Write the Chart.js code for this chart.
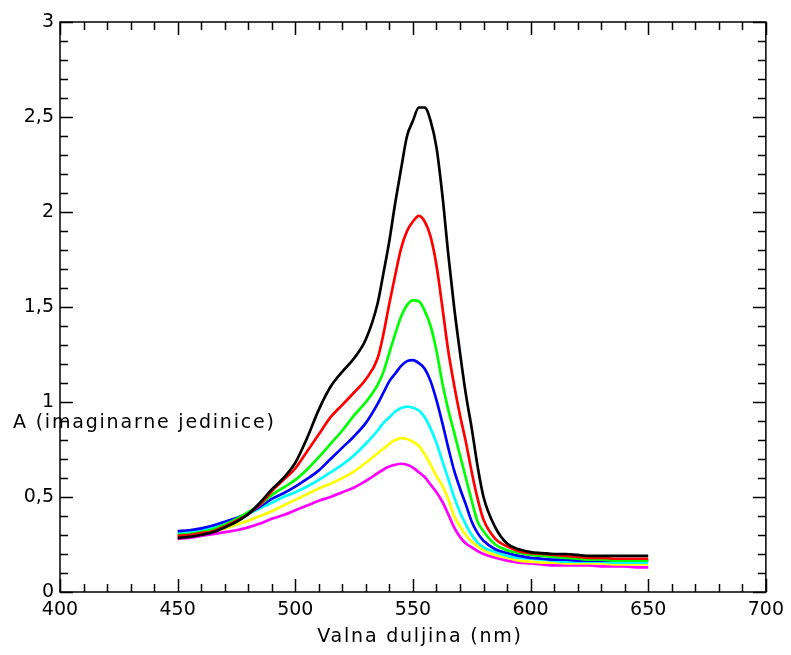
<!DOCTYPE html>
<html>
<head>
<meta charset="utf-8">
<title>Valna duljina</title>
<script src="https://cdn.jsdelivr.net/npm/chart.js@4.4.1/dist/chart.umd.min.js"></script>
<style>
  html, body { margin: 0; padding: 0; background: #fff; }
  canvas { display: block; }
</style>
</head>
<body>
<canvas id="spectra" width="791" height="655"></canvas>
<script>
// wavelength in nm (denser near the peak)
const wavelengths = [
  450, 455, 460, 465, 470, 475, 480, 485, 490, 495, 500, 505, 510, 515, 520, 525, 530, 535,
  537.5, 540, 542.5, 545, 547.5, 550, 552.5, 555, 557.5, 560, 562.5, 565, 567.5, 570, 572.5, 575, 577.5,
  580, 585, 590, 595, 600, 605, 610, 615, 620, 625, 630, 635, 640, 645, 650
];

const black = [
  0.285, 0.29, 0.30, 0.315, 0.34, 0.37, 0.41, 0.47, 0.54, 0.60, 0.68, 0.81, 0.96, 1.08, 1.16, 1.23, 1.33, 1.52,
  1.68, 1.85, 2.05, 2.23, 2.40, 2.48, 2.55, 2.55, 2.48, 2.34, 2.09, 1.78, 1.50, 1.26, 1.04, 0.86, 0.66,
  0.50, 0.34, 0.255, 0.225, 0.21, 0.205, 0.20, 0.20, 0.195, 0.19, 0.19, 0.19, 0.19, 0.19, 0.19
];
const red = [
  0.295, 0.30, 0.31, 0.32, 0.345, 0.375, 0.41, 0.46, 0.53, 0.59, 0.65, 0.74, 0.83, 0.92, 0.985, 1.05, 1.12, 1.23,
  1.36, 1.52, 1.67, 1.81, 1.90, 1.95, 1.98, 1.95, 1.87, 1.72, 1.50, 1.27, 1.09, 0.93, 0.79, 0.63, 0.49,
  0.38, 0.28, 0.24, 0.215, 0.205, 0.20, 0.195, 0.19, 0.185, 0.18, 0.18, 0.175, 0.175, 0.175, 0.175
];
const green = [
  0.30, 0.305, 0.315, 0.33, 0.355, 0.385, 0.42, 0.46, 0.51, 0.55, 0.59, 0.645, 0.71, 0.78, 0.85, 0.93, 1.00, 1.09,
  1.16, 1.26, 1.36, 1.45, 1.51, 1.535, 1.53, 1.48, 1.40, 1.27, 1.10, 0.96, 0.84, 0.72, 0.60, 0.48, 0.37,
  0.32, 0.25, 0.22, 0.205, 0.195, 0.19, 0.185, 0.18, 0.175, 0.17, 0.17, 0.165, 0.165, 0.165, 0.165
];
const blue = [
  0.32, 0.325, 0.335, 0.35, 0.37, 0.39, 0.415, 0.45, 0.49, 0.52, 0.555, 0.595, 0.64, 0.70, 0.76, 0.82, 0.89, 0.99,
  1.05, 1.11, 1.15, 1.19, 1.215, 1.22, 1.205, 1.175, 1.11, 1.01, 0.89, 0.76, 0.64, 0.545, 0.46, 0.37, 0.31,
  0.27, 0.225, 0.205, 0.19, 0.18, 0.175, 0.17, 0.17, 0.165, 0.165, 0.165, 0.165, 0.165, 0.165, 0.165
];
const cyan = [
  0.31, 0.315, 0.325, 0.34, 0.355, 0.38, 0.41, 0.44, 0.47, 0.50, 0.525, 0.555, 0.59, 0.63, 0.67, 0.72, 0.78, 0.85,
  0.89, 0.92, 0.95, 0.968, 0.975, 0.97, 0.955, 0.92, 0.86, 0.785, 0.69, 0.595, 0.50, 0.42, 0.355, 0.30, 0.26,
  0.235, 0.21, 0.19, 0.18, 0.175, 0.17, 0.165, 0.16, 0.16, 0.16, 0.16, 0.155, 0.155, 0.155, 0.155
];
const yellow = [
  0.295, 0.30, 0.31, 0.32, 0.335, 0.355, 0.375, 0.40, 0.425, 0.455, 0.485, 0.515, 0.545, 0.57, 0.60, 0.635, 0.68, 0.73,
  0.755, 0.78, 0.80, 0.81, 0.805, 0.79, 0.77, 0.725, 0.67, 0.61, 0.56, 0.49, 0.40, 0.345, 0.30, 0.265, 0.24,
  0.22, 0.195, 0.18, 0.165, 0.16, 0.155, 0.155, 0.15, 0.15, 0.15, 0.15, 0.145, 0.145, 0.145, 0.145
];
const magenta = [
  0.28, 0.285, 0.295, 0.305, 0.315, 0.325, 0.34, 0.36, 0.385, 0.405, 0.43, 0.455, 0.48, 0.50, 0.525, 0.55, 0.585, 0.625,
  0.645, 0.66, 0.67, 0.675, 0.67, 0.655, 0.63, 0.605, 0.565, 0.525, 0.475, 0.41, 0.34, 0.29, 0.255, 0.235, 0.215,
  0.20, 0.18, 0.165, 0.155, 0.15, 0.145, 0.14, 0.14, 0.14, 0.14, 0.135, 0.135, 0.135, 0.13, 0.13
];

const xTicks = [400, 450, 500, 550, 600, 650, 700];
const yTicks = [0, 0.5, 1, 1.5, 2, 2.5, 3];
const xTitle = 'Valna duljina (nm)';
const yTitle = 'A (imaginarne jedinice)';

const FONT = '"DejaVu Sans", Verdana, sans-serif';

function pts(values) {
  return wavelengths.map((w, i) => ({ x: w, y: values[i] }));
}

function series(values, color) {
  return {
    data: pts(values),
    borderColor: color,
    borderWidth: 2.7,
    pointRadius: 0,
    cubicInterpolationMode: 'monotone',
    fill: false
  };
}

// frame with inward ticks on all four sides, plus the two axis titles
const frameTicks = {
  id: 'frameTicks',
  afterDraw(chart) {
    const { ctx, chartArea: a, scales } = chart;
    ctx.save();
    ctx.strokeStyle = '#000';
    ctx.lineWidth = 1.5;
    ctx.strokeRect(a.left, a.top, a.right - a.left, a.bottom - a.top);
    ctx.beginPath();
    for (let v = 400; v <= 700; v += 10) {
      const px = Math.round(scales.x.getPixelForValue(v)) + 0.5;
      const len = v % 50 === 0 ? 13 : 8;
      ctx.moveTo(px, a.bottom); ctx.lineTo(px, a.bottom - len);
      ctx.moveTo(px, a.top); ctx.lineTo(px, a.top + len);
    }
    for (let i = 0; i <= 30; i++) {
      const py = Math.round(scales.y.getPixelForValue(i / 10)) + 0.5;
      const len = i % 5 === 0 ? 13 : 8;
      ctx.moveTo(a.left, py); ctx.lineTo(a.left + len, py);
      ctx.moveTo(a.right, py); ctx.lineTo(a.right - len, py);
    }
    ctx.stroke();

    ctx.fillStyle = '#000';
    ctx.font = '19px ' + FONT;
    ctx.letterSpacing = '1.8px';
    ctx.textBaseline = 'middle';
    ctx.textAlign = 'left';
    ctx.fillText(yTitle, 13, 423);
    ctx.textAlign = 'center';
    ctx.fillText(xTitle, 420, 637);
    ctx.restore();
  }
};

const ctx = document.getElementById('spectra').getContext('2d');
const chart = new Chart(ctx, {
  type: 'line',
  data: {
    datasets: [
      series(black, '#000000'),
      series(red, '#ff0000'),
      series(green, '#00ff00'),
      series(blue, '#0000ff'),
      series(cyan, '#00ffff'),
      series(yellow, '#ffff00'),
      series(magenta, '#ff00ff')
    ]
  },
  options: {
    responsive: false,
    animation: false,
    devicePixelRatio: 1,
    layout: { padding: { left: 0, right: 25, top: 22, bottom: 0 } },
    plugins: {
      legend: { display: false },
      tooltip: { enabled: false }
    },
    scales: {
      x: {
        type: 'linear',
        min: 400,
        max: 700,
        afterFit: s => { s.height = 63; },
        afterBuildTicks: s => { s.ticks = xTicks.map(v => ({ value: v })); },
        grid: { display: false, drawTicks: false },
        border: { display: false },
        ticks: { color: '#000', padding: 7, maxRotation: 0, font: { family: FONT, size: 19 } }
      },
      y: {
        min: 0,
        max: 3,
        afterFit: s => { s.width = 60; },
        afterBuildTicks: s => { s.ticks = yTicks.map(v => ({ value: v })); },
        grid: { display: false, drawTicks: false },
        border: { display: false },
        ticks: {
          color: '#000',
          padding: 6,
          font: { family: FONT, size: 19 },
          callback: v => String(v).replace('.', ',')
        }
      }
    }
  },
  plugins: [frameTicks]
});
</script>
</body>
</html>
